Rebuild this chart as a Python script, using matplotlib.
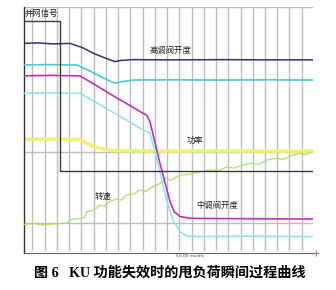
import matplotlib
matplotlib.use("Agg")
import matplotlib.pyplot as plt

plt.rcParams['font.family'] = ['Noto Sans CJK SC', 'DejaVu Sans']

# time in ms (50 ms/div), values in % of screen height
grid_t = [36 + 50 * k for k in range(23)]
grid_v = [12.3, 41.2, 100.0]

sync_t = [0, 149, 149, 1182]
sync_v = [94.4, 94.4, 33.5, 33.5]

hp_t = [0, 60, 120, 190, 240, 290, 340, 373, 400, 447, 600, 800, 1000, 1182]
hp_v = [85.2, 85.4, 85.0, 85.2, 83.5, 81.0, 79.0, 77.8, 78.3, 78.6, 78.5, 78.6, 78.5, 78.5]

cy1_t = [0, 100, 218, 260, 300, 340, 373, 400, 447, 600, 800, 1000, 1182]
cy1_v = [76.4, 76.6, 76.4, 74.5, 72.5, 70.5, 69.0, 69.6, 70.3, 70.4, 70.3, 70.4, 70.3]

ip_t = [0, 100, 231, 300, 373, 430, 488, 503, 516, 557, 598, 615, 640, 680, 800, 1000, 1182]
ip_v = [72.0, 72.2, 72.0, 67.9, 63.5, 60.2, 56.8, 56.0, 53.5, 36.5, 21.0, 16.8, 14.8, 14.1, 14.0, 13.9, 13.8]

cy2_t = [0, 100, 231, 300, 400, 488, 516, 537, 557, 584, 610, 639, 666, 720, 900, 1182]
cy2_v = [64.9, 65.1, 64.9, 61.0, 55.2, 50.0, 48.7, 41.2, 32.9, 21.5, 13.4, 8.7, 6.9, 6.7, 6.8, 6.7]

pw_t = [0, 150, 231, 280, 341, 400, 600, 800, 1000, 1182]
pw_v = [46.2, 46.3, 46.0, 43.5, 41.8, 41.5, 41.4, 41.5, 41.4, 41.4]

sp_t = [0, 40, 80, 120, 160, 182, 190, 230, 250, 259, 290, 312, 330, 353, 380, 400, 421,
        450, 476, 500, 520, 544, 560, 584, 600, 639, 680, 720, 761, 800, 830, 860, 896,
        930, 960, 1000, 1033, 1060, 1090, 1127, 1150, 1182]
sp_v = [11.6, 12.0, 11.4, 11.8, 12.0, 12.2, 13.6, 14.0, 14.6, 16.8, 17.5, 19.5, 19.0,
        21.0, 22.0, 21.5, 23.6, 24.0, 25.6, 25.0, 26.5, 27.6, 28.5, 30.5, 29.5, 31.7,
        32.0, 33.0, 33.7, 33.5, 35.0, 34.5, 35.8, 36.5, 36.0, 38.0, 38.5, 38.0, 39.5,
        40.5, 40.0, 41.2]

fig = plt.figure(figsize=(3.36, 2.90), dpi=100)
W, H = 336, 290
x0, x1, ytop, ybot = 23.5, 313, 7, 253
ax = fig.add_axes([x0 / W, 1 - ybot / H, (x1 - x0) / W, (ybot - ytop) / H])
ax.set_xlim(0, 1182)
ax.set_ylim(0, 100)

for t in grid_t:
    ax.axvline(t, ymin=0.012, color='#bdbdbd', lw=1.0, zorder=1)
for v in grid_v:
    ax.axhline(v, color='#bdbdbd', lw=1.0, zorder=1)

for s in ['top', 'right']:
    ax.spines[s].set_visible(False)
ax.spines['left'].set_color('#333333')
ax.spines['bottom'].set_color('#666666')
ax.spines['left'].set_linewidth(1.0)
ax.spines['bottom'].set_linewidth(0.8)
ax.set_xticks([])
ax.set_yticks([])
ax.plot([1182, 1190], [0, 0], color='#666666', lw=0.8, clip_on=False)
ax.plot([1195], [0], marker='+', color='#888888', ms=4, mew=0.8, clip_on=False)

ax.plot(pw_t, pw_v, color='#f0f066', lw=2.6, alpha=0.9, zorder=2)
ax.plot(sp_t, sp_v, color='#b4dc6a', lw=0.9, zorder=3)
ax.plot(cy2_t, cy2_v, color='#8ae4e4', lw=1.1, zorder=3)
ax.plot(cy1_t, cy1_v, color='#48cccc', lw=1.2, zorder=3)
ax.plot(ip_t, ip_v, color='#c030c0', lw=1.2, zorder=4)
ax.plot(hp_t, hp_v, color='#30307e', lw=1.1, zorder=4)
ax.plot(sync_t, sync_v, color='#3a3a3a', lw=1.0, zorder=5)

fs = 6
ax.text(6, 97.4, '并网信号', fontsize=fs, color='#222222', ha='left', va='center')
ax.text(516, 82.5, '高调阀开度', fontsize=fs, color='#222222', ha='left', va='center')
ax.text(666, 45.6, '功率', fontsize=fs, color='#222222', ha='left', va='center')
ax.text(292, 22.9, '转速', fontsize=fs, color='#222222', ha='left', va='center')
ax.text(707, 19.5, '中调阀开度', fontsize=fs, color='#222222', ha='left', va='center')
ax.text(680, -1.3, '50.00 ms/div', fontsize=3.2, color='#444444', ha='center', va='center',
        family=['DejaVu Sans'])

fig.text(170 / W, 1 - 273 / H, '图 6   KU 功能失效时的甩负荷瞬间过程曲线', fontsize=10.2,
         fontweight='bold', ha='center', va='center',
         family=['Liberation Serif', 'Noto Sans CJK SC'])

fig.savefig('out.png', dpi=100, facecolor='white')
